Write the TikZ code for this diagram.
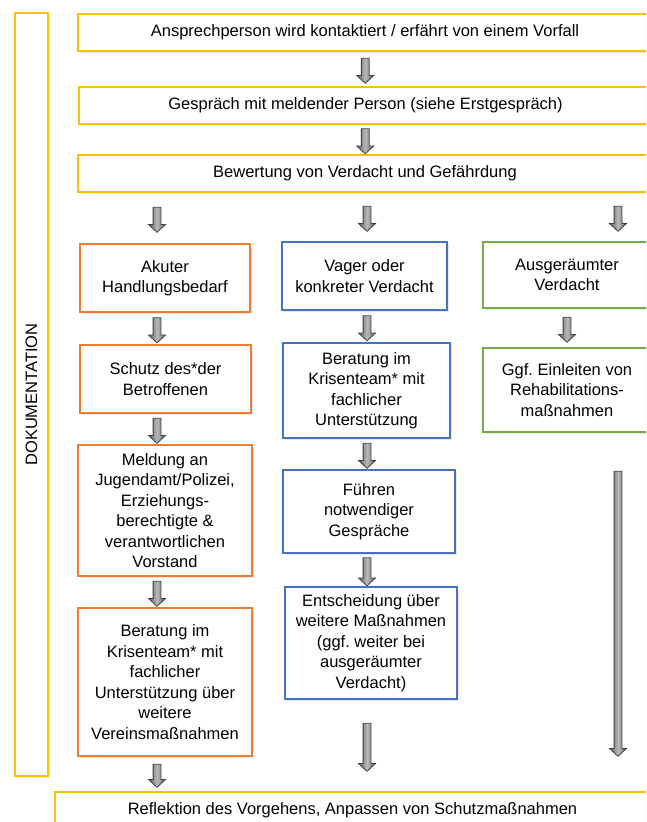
\documentclass[tikz,border=0pt]{standalone}
\usepackage{fontspec}
\setmainfont{Liberation Sans}
\usetikzlibrary{shapes.arrows,shadows}
\definecolor{docyellow}{HTML}{FFC000}
\definecolor{actorange}{HTML}{ED7D31}
\definecolor{vagblue}{HTML}{4472C4}
\definecolor{clrgreen}{HTML}{70AD47}
\frenchspacing

\begin{document}
\begin{tikzpicture}[x=1pt,y=-1pt,
    box/.style={draw, line width=1.4pt, fill=white, align=center, inner sep=2pt,
        font=\fontsize{16.5}{20.5}\selectfont,
        drop shadow={opacity=0.18, shadow xshift=1.5pt, shadow yshift=-1.5pt}},
    stepbox/.style={box, draw=docyellow},
    actbox/.style={box, draw=actorange},
    vagbox/.style={box, draw=vagblue},
    clrbox/.style={box, draw=clrgreen},
    blockarr/.style={single arrow, rotate=-90, draw=black!75, line width=0.8pt,
        inner xsep=0pt, inner ysep=3.5pt, single arrow head extend=4.5pt,
        single arrow tip angle=95, minimum height=#1,
        left color=gray!75!black, right color=gray!75!black, middle color=gray!55},
    blockarr/.default=25pt]
        \useasboundingbox (0,0) rectangle (646,822);
        \clip (0,0) rectangle (646,822);

        % Draw documentation bar
        \node[stepbox, rotate=90, minimum width=763pt, minimum height=33pt] (doku) at (31.5,394.5) {DOKUMENTATION};

        % Draw common steps
        \node[stepbox, minimum width=574pt, minimum height=37pt] (anspr) at (365,32.5)
            {Ansprechperson wird kontaktiert / erfährt von einem Vorfall};
        \node[stepbox, minimum width=573pt, minimum height=37pt] (gespr) at (365.5,105.5)
            {Gespräch mit meldender Person (siehe Erstgespräch)};
        \node[stepbox, minimum width=574pt, minimum height=37pt] (bew) at (365,173.5)
            {Bewertung von Verdacht und Gefährdung};

        % Draw first column
        \node[actbox, minimum width=170pt, minimum height=68pt] (akut) at (165,278)
            {Akuter\\Handlungsbedarf};
        \node[actbox, minimum width=171pt, minimum height=68pt] (schutz) at (165.5,379)
            {Schutz des*der\\Betroffenen};
        \node[actbox, minimum width=174pt, minimum height=131pt] (meld) at (165,510.5)
            {Meldung an\\Jugendamt/Polizei,\\Erziehungs-\\berechtigte \&\\verantwortlichen\\Vorstand};
        \node[actbox, minimum width=174pt, minimum height=148pt] (krisa) at (165,682)
            {Beratung im\\Krisenteam* mit\\fachlicher\\Unterstützung über\\weitere\\Vereinsmaßnahmen};

        % Draw second column
        \node[vagbox, minimum width=165pt, minimum height=68pt] (vager) at (364.5,276)
            {Vager oder\\konkreter Verdacht};
        \node[vagbox, minimum width=167pt, minimum height=95pt] (krisb) at (366.5,390.5)
            {Beratung im\\Krisenteam* mit\\fachlicher\\Unterstützung};
        \node[vagbox, minimum width=172pt, minimum height=83pt] (fuehr) at (369,511.5)
            {Führen\\notwendiger\\Gespräche};
        \node[vagbox, minimum width=172pt, minimum height=112pt] (entsch) at (371,643)
            {Entscheidung über\\weitere Maßnahmen\\(ggf. weiter bei\\ausgeräumter\\Verdacht)};

        % Draw third column
        \node[clrbox, minimum width=168pt, minimum height=66pt] (ausger) at (567,275)
            {Ausgeräumter\\Verdacht};
        \node[clrbox, minimum width=168pt, minimum height=84pt] (rehab) at (567,390)
            {Ggf. Einleiten von\\Rehabilitations-\\maßnahmen};

        % Draw final step
        \node[stepbox, minimum width=595pt, minimum height=37pt] (refl) at (352.5,810.5)
            {Reflektion des Vorgehens, Anpassen von Schutzmaßnahmen};

        % Draw arrows
        \coordinate (xa) at (157,0);
        \coordinate (xb) at (367,0);
        \coordinate (xc) at (618,0);
        \path (anspr.south) -- node[blockarr] {} (gespr.north);
        \path (gespr.south) -- node[blockarr] {} (bew.north);
        \path (bew.south -| xa) -- node[blockarr] {} (akut.north -| xa);
        \path (bew.south -| xb) -- node[blockarr] {} (vager.north -| xb);
        \path (bew.south -| xc) -- node[blockarr] {} (ausger.north -| xc);
        \path (akut.south -| xa) -- node[blockarr] {} (schutz.north -| xa);
        \path (schutz.south -| xa) -- node[blockarr] {} (meld.north -| xa);
        \path (meld.south -| xa) -- node[blockarr] {} (krisa.north -| xa);
        \path (krisa.south -| xa) -- node[blockarr=23pt] {} (refl.north -| xa);
        \path (vager.south -| xb) -- node[blockarr] {} (krisb.north -| xb);
        \path (krisb.south -| xb) -- node[blockarr] {} (fuehr.north -| xb);
        \path (fuehr.south -| xb) -- node[blockarr=28pt] {} (entsch.north -| xb);
        \path (entsch.south -| xb) -- node[blockarr=48pt] {} (refl.north -| xb);
        \path (ausger.south) -- node[blockarr] {} (rehab.north);
        \path (rehab.south -| xc) -- node[blockarr=285pt] {} (refl.north -| xc);
    \end{tikzpicture}
\end{document}
